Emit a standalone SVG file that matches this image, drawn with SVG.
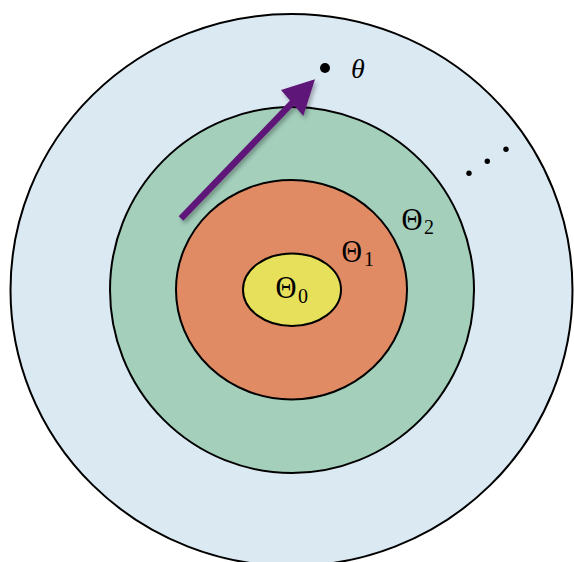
<svg xmlns="http://www.w3.org/2000/svg" width="574" height="562" viewBox="0 0 574 562">
<defs>
<style>
.ring{stroke:#000;stroke-width:2}
.lbl{font-family:"Liberation Serif","DejaVu Serif",serif;fill:#000}
.big{font-size:32px}
.sub{font-size:20px}
</style>
<filter id="sh" x="-20%" y="-20%" width="150%" height="150%">
<feDropShadow dx="2" dy="3" stdDeviation="2" flood-color="#000" flood-opacity="0.3"/>
</filter>
</defs>
<rect width="574" height="562" fill="#fff"/>
<g id="outer">
<ellipse class="ring" cx="291.5" cy="290" rx="281" ry="276" fill="#dbe9f3"/>
<g id="dots" fill="#000">
<circle cx="469" cy="173.3" r="2.7"/>
<circle cx="487.3" cy="161.3" r="2.7"/>
<circle cx="506" cy="149.3" r="2.7"/>
</g>
</g>
<g id="theta2">
<ellipse class="ring" cx="292" cy="290" rx="182" ry="183" fill="#a3cfbb"/>
<text class="lbl big" x="401.5" y="229.5" textLength="21" lengthAdjust="spacingAndGlyphs">Θ</text>
<text class="lbl sub" x="424" y="233.5">2</text>
</g>
<g id="theta1">
<ellipse class="ring" cx="291.5" cy="289.7" rx="115.5" ry="109.7" fill="#e08b64"/>
<text class="lbl big" x="341.5" y="261.5" textLength="20.5" lengthAdjust="spacingAndGlyphs">Θ</text>
<text class="lbl sub" x="364" y="265.5">1</text>
</g>
<g id="theta0">
<ellipse class="ring" cx="292" cy="289.7" rx="49" ry="36.3" fill="#e7e05b"/>
<text class="lbl big" x="275.5" y="298" textLength="21" lengthAdjust="spacingAndGlyphs">Θ</text>
<text class="lbl sub" x="298" y="302.5">0</text>
</g>
<g id="point">
<circle cx="325" cy="68" r="5" fill="#000"/>
<text class="lbl" x="351" y="78" font-size="28" font-style="italic">θ</text>
</g>
<g id="connectors" filter="url(#sh)">
<line x1="181" y1="218.5" x2="293" y2="102" stroke="#5f1879" stroke-width="6.5"/>
<polygon points="315,79.3 281,90 303.3,116" fill="#5f1879"/>
</g>
</svg>
